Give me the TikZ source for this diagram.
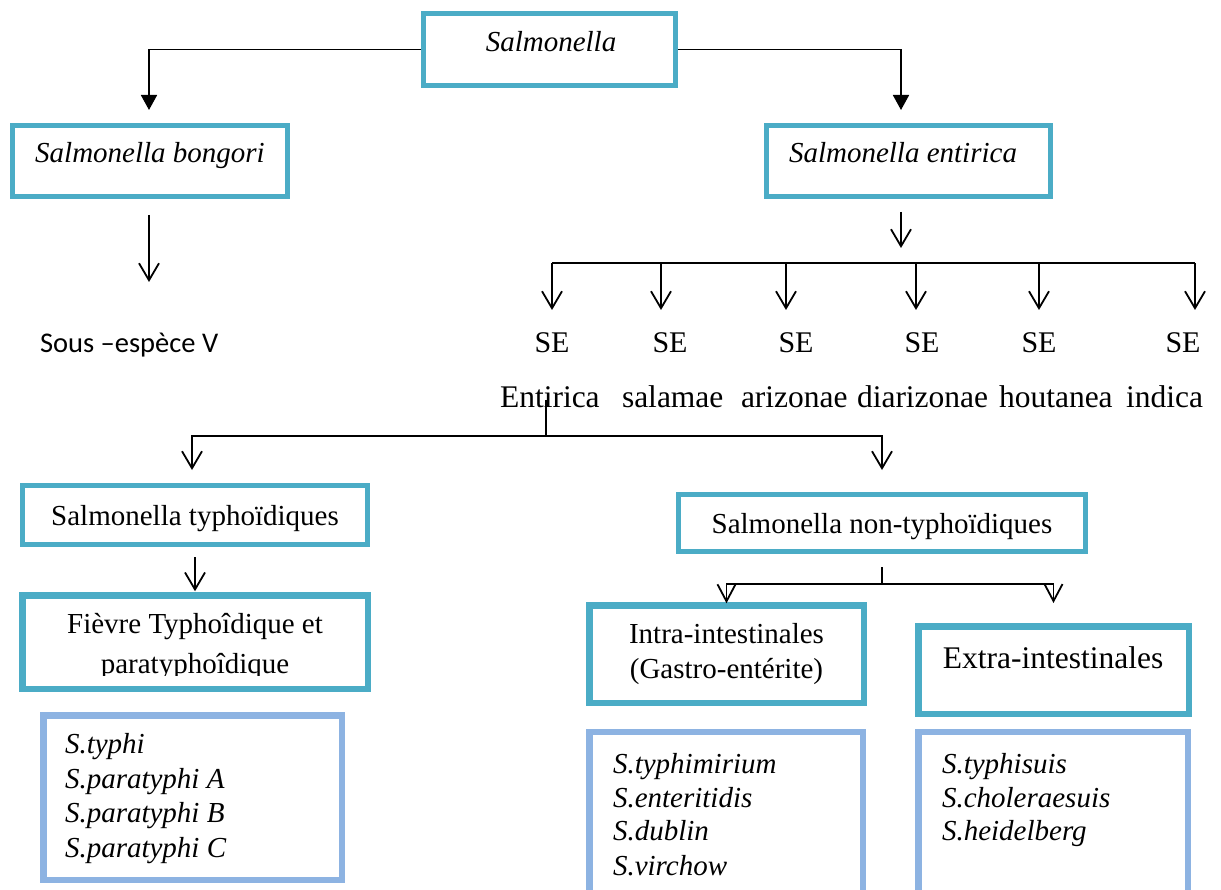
\documentclass[tikz,border=0pt]{standalone}
\usepackage{fontspec}
\setmainfont{Liberation Serif}
\newfontfamily\sansC{Carlito}
\usetikzlibrary{arrows.meta}

\definecolor{boxteal}{HTML}{4BACC6}
\definecolor{listblue}{HTML}{8DB3E2}

\tikzset{
  tealbox/.style={draw=boxteal, line width=5pt, fill=none, inner sep=0pt, outer sep=0pt, rectangle},
  thickbox/.style={draw=boxteal, line width=6.5pt, fill=none, inner sep=0pt, outer sep=0pt, rectangle},
  listbox/.style={draw=listblue, line width=6.5pt, fill=none, inner sep=0pt, outer sep=0pt, rectangle},
  lbl/.style={inner sep=0pt, outer sep=0pt, anchor=base},
  lblw/.style={inner sep=0pt, outer sep=0pt, anchor=base west},
  rm/.style={font=\fontsize{29}{34}\selectfont},
  rmbig/.style={font=\fontsize{30}{36}\selectfont},
  rmword/.style={font=\fontsize{31.5}{36}\selectfont},
  it/.style={font=\fontsize{29}{34}\selectfont\itshape},
  conn/.style={draw=black, line width=1.8pt},
  solidtip/.style={conn, -{Triangle[length=15pt,width=16pt]}},
  opentip/.style={conn, -{Straight Barb[length=17pt,width=20pt]}},
  smalltip/.style={conn, -{Straight Barb[length=17pt,width=18pt]}}
}

\begin{document}
\begin{tikzpicture}[x=1pt,y=-1pt]
\fill[white] (0,0) rectangle (1221,890);
\useasboundingbox (0,0) rectangle (1221,890);

% ---- boxes ----
\node[tealbox, minimum width=252pt, minimum height=72pt] (top) at (549.5,49.5) {};
\node[tealbox, minimum width=275pt, minimum height=71pt] (bongori) at (150,161) {};
\node[tealbox, minimum width=284pt, minimum height=71pt] (entirica) at (908.5,161) {};
\node[tealbox, minimum width=345pt, minimum height=59pt] (typh) at (195,515) {};
\node[tealbox, minimum width=407pt, minimum height=57pt] (nontyph) at (882,523) {};
\node[thickbox, minimum width=345.5pt, minimum height=93.5pt] (fievre) at (195,642) {};
\node[thickbox, minimum width=274.5pt, minimum height=97.5pt] (intra) at (726.5,654) {};
\node[thickbox, minimum width=270.5pt, minimum height=87.5pt] (extra) at (1053.5,670) {};
\node[listbox, minimum width=298.5pt, minimum height=164.5pt] (listT) at (192.5,797.5) {};
\node[listbox, minimum width=273.5pt, minimum height=160.75pt] (listI) at (726,812.6) {};
\node[listbox, minimum width=269.5pt, minimum height=160.75pt] (listE) at (1053,812.6) {};

% ---- texts ----
\node[lbl, it] (tTop) at (551,52) {Salmonella};
\node[lbl, it] (tBong) at (150,163) {Salmonella bongori};
\node[lbl, it] (tEnt) at (903,163) {Salmonella entirica};
\node[lblw, font=\sansC\fontsize{28.5}{34}\selectfont] (tSous) at (40,353) {Sous –espèce V};

\foreach \x [count=\i] in {552,670,796,922,1039,1183}
  \node[lbl, rmbig] (se\i) at (\x,353) {SE};
\node[lblw, rmword] (w1) at (500,408) {Entirica};
\node[lblw, rmword] (w2) at (622,408) {salamae};
\node[lblw, rmword] (w3) at (741,408) {arizonae};
\node[lblw, rmword] (w4) at (857,408) {diarizonae};
\node[lblw, rmword] (w5) at (999,408) {houtanea};
\node[lblw, rmword] (w6) at (1126,408) {indica};

\node[lbl, rm] (tTyph) at (195,525) {Salmonella typhoïdiques};
\node[lbl, rm] (tNon) at (882,533) {Salmonella non-typhoïdiques};
\begin{scope}
  \clip (0,600) rectangle (400,675.5);
  \node[lbl, rm] (tFa) at (195,633) {Fièvre Typhoîdique et};
  \node[lbl, rm] (tFb) at (195,673) {paratyphoîdique};
\end{scope}
\node[lbl, rm] (tIa) at (726.5,643) {Intra-intestinales};
\node[lbl, rm] (tIb) at (726.5,678) {(Gastro-entérite)};
\node[lbl, font=\fontsize{31.5}{36}\selectfont] (tEx) at (1053,668) {Extra-intestinales};

\node[lblw, it] (a1) at (65,753) {S.typhi};
\node[lblw, it] (a2) at (65,788) {S.paratyphi A};
\node[lblw, it] (a3) at (65,822) {S.paratyphi B};
\node[lblw, it] (a4) at (65,857) {S.paratyphi C};

\node[lblw, it] (b1) at (613,773) {S.typhimirium};
\node[lblw, it] (b2) at (613,807) {S.enteritidis};
\node[lblw, it] (b3) at (613,840) {S.dublin};
\node[lblw, it] (b4) at (613,875) {S.virchow};

\node[lblw, it] (c1) at (942,773) {S.typhisuis};
\node[lblw, it] (c2) at (942,807) {S.choleraesuis};
\node[lblw, it] (c3) at (942,840) {S.heidelberg};

% ---- junctions and arrow ends ----
\coordinate (tipBong) at (149,110);
\coordinate (tipEnt) at (901,110);
\coordinate (bgA) at (149,215);
\coordinate (bgB) at (149,282);
\coordinate (enA) at (901,212);
\coordinate (enB) at (901,248);
\coordinate (busL) at (552,263);
\coordinate (busR) at (1195,263);
\coordinate (spA) at (546,400);
\coordinate (spJ) at (546,436);
\coordinate (tipTyph) at (192,470);
\coordinate (tipNon) at (882,470);
\coordinate (ntJ) at (882,584);
\coordinate (tipExtra) at (1053.5,603);

% ---- connectors ----
\draw[solidtip, shorten <=2.5pt] (top.west) -| (tipBong);
\draw[solidtip, shorten <=2.5pt] (top.east) -| (tipEnt);
\draw[opentip] (bgA) -- (bgB);
\draw[opentip] (enA) -- (enB);
\draw[conn] (busL) -- (busR);
\foreach \x in {552,661,786,916,1039,1195}
  \draw[opentip] (\x,263) -- (\x,310);
\draw[conn] (spA) -- (spJ);
\draw[opentip] (spJ) -| (tipTyph);
\draw[opentip] (spJ) -| (tipNon);
\draw[opentip, shorten <=12.5pt, shorten >=4pt] (typh.south) -- (fievre.north);
\draw[conn, shorten <=15.5pt] (nontyph.south) -- (ntJ);
\draw[smalltip, shorten >=2pt] (ntJ) -| (intra.north);
\draw[smalltip] (ntJ) -| (tipExtra);
\end{tikzpicture}
\end{document}
